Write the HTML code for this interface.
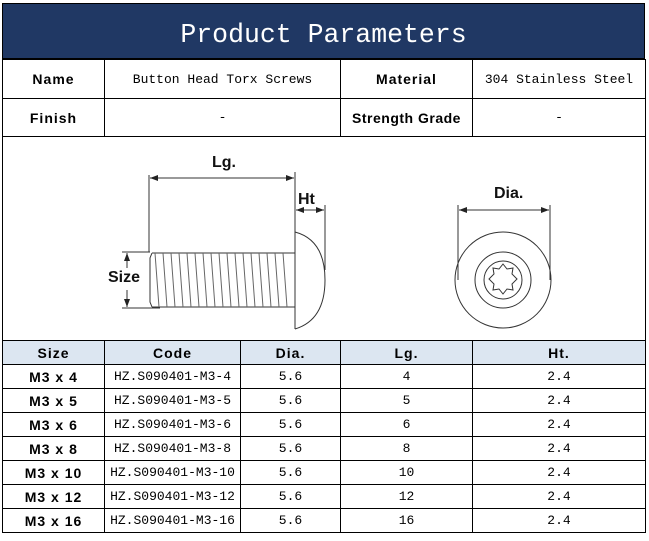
<!DOCTYPE html>
<html><head><meta charset="utf-8"><style>
*{margin:0;padding:0;box-sizing:border-box}
body{width:649px;height:541px;background:#fff;position:relative;overflow:hidden;font-family:"Liberation Mono","Noto Sans CJK SC",monospace;color:#000}
.a{position:absolute}
.title{left:2px;top:3px;width:643px;height:56px;background:#203864;color:#fff;font-size:26.5px;text-align:center;line-height:62px;border:1px solid #000;font-family:"Liberation Mono",monospace}
table{position:absolute;border-collapse:collapse;left:2px;width:643px;table-layout:fixed}
td{border:1px solid #000;text-align:center;font-size:13px;padding:0;white-space:nowrap;overflow:hidden}
.b{font-family:"Liberation Sans",sans-serif;font-weight:bold;letter-spacing:1px;font-size:14px}
.hd td{background:#dce6f1}
</style></head><body>
<div class="a title">Product Parameters</div>
<table style="top:59px">
<colgroup><col style="width:102px"><col style="width:236px"><col style="width:132px"><col style="width:173px"></colgroup>
<tr style="height:39px"><td class="b">Name</td><td>Button Head Torx Screws</td><td class="b">Material</td><td>304 Stainless Steel</td></tr>
<tr style="height:38px"><td class="b">Finish</td><td>-</td><td class="b" style="letter-spacing:0.5px">Strength Grade</td><td>-</td></tr>
<tr style="height:204px"><td colspan="4"></td></tr>
</table>
<svg class="a" style="left:0;top:136px" width="649" height="204" viewBox="0 136 649 204" font-family="Liberation Sans,sans-serif">
<defs><marker id="ar" markerWidth="8" markerHeight="6" refX="8" refY="3" orient="auto-start-reverse"><path d="M0,0L8,3L0,6z" fill="#222"/></marker></defs>
<g stroke="#333" fill="none" stroke-width="1">
<line x1="149" y1="175" x2="149" y2="252"/><line x1="295" y1="172" x2="295" y2="232"/><line x1="325" y1="205" x2="325" y2="270"/>
<line x1="150" y1="178" x2="294" y2="178" marker-start="url(#ar)" marker-end="url(#ar)"/>
<line x1="296" y1="210" x2="324" y2="210" marker-start="url(#ar)" marker-end="url(#ar)"/>
<line x1="122" y1="252" x2="150" y2="252"/><line x1="122" y1="308" x2="160" y2="308"/>
<line x1="127" y1="253" x2="127" y2="268" marker-start="url(#ar)"/><line x1="127" y1="290" x2="127" y2="307" marker-end="url(#ar)"/>
<path d="M295,232 L295,329 M295,232 Q325,240 325,280 Q325,320 295,329"/>
<path d="M152,253 L295,253 M152,307 L295,307 M152,253 L150,258 L150,302 L152,307"/>
<path d="M155,253 l4,54 m4,-54 l4,54 m4,-54 l4,54 m4,-54 l4,54 m4,-54 l4,54 m4,-54 l4,54 m4,-54 l4,54 m4,-54 l4,54 m4,-54 l4,54 m4,-54 l4,54 m4,-54 l4,54 m4,-54 l4,54 m4,-54 l4,54 m4,-54 l4,54 m4,-54 l4,54 m4,-54 l4,54 m4,-54 l4,54" stroke="#666"/>
<line x1="458" y1="205" x2="458" y2="280"/><line x1="550" y1="205" x2="550" y2="280"/>
<line x1="459" y1="210" x2="549" y2="210" marker-start="url(#ar)" marker-end="url(#ar)"/>
<circle cx="503" cy="280" r="48"/><circle cx="503" cy="280" r="28"/><circle cx="503" cy="280" r="19"/>
<path d="M503,264 l4,5 6,-1 -1,6 5,5 -5,5 1,6 -6,-1 -4,5 -4,-5 -6,1 1,-6 -5,-5 5,-5 -1,-6 6,1z"/>
</g>
<g font-weight="bold" font-size="16" fill="#111">
<text x="212" y="167">Lg.</text><text x="298" y="204">Ht</text><text x="108" y="282">Size</text><text x="494" y="198">Dia.</text>
</g>
</svg>
<table style="top:340px">
<colgroup><col style="width:102px"><col style="width:136px"><col style="width:100px"><col style="width:132px"><col style="width:173px"></colgroup>
<tr class="hd" style="height:24px"><td class="b">Size</td><td class="b">Code</td><td class="b">Dia.</td><td class="b">Lg.</td><td class="b">Ht.</td></tr>
<tr style="height:24px"><td class="b">M3 x 4</td><td>HZ.S090401-M3-4</td><td>5.6</td><td>4</td><td>2.4</td></tr>
<tr style="height:24px"><td class="b">M3 x 5</td><td>HZ.S090401-M3-5</td><td>5.6</td><td>5</td><td>2.4</td></tr>
<tr style="height:24px"><td class="b">M3 x 6</td><td>HZ.S090401-M3-6</td><td>5.6</td><td>6</td><td>2.4</td></tr>
<tr style="height:24px"><td class="b">M3 x 8</td><td>HZ.S090401-M3-8</td><td>5.6</td><td>8</td><td>2.4</td></tr>
<tr style="height:24px"><td class="b">M3 x 10</td><td>HZ.S090401-M3-10</td><td>5.6</td><td>10</td><td>2.4</td></tr>
<tr style="height:24px"><td class="b">M3 x 12</td><td>HZ.S090401-M3-12</td><td>5.6</td><td>12</td><td>2.4</td></tr>
<tr style="height:24px"><td class="b">M3 x 16</td><td>HZ.S090401-M3-16</td><td>5.6</td><td>16</td><td>2.4</td></tr>
</table>
</body></html>
